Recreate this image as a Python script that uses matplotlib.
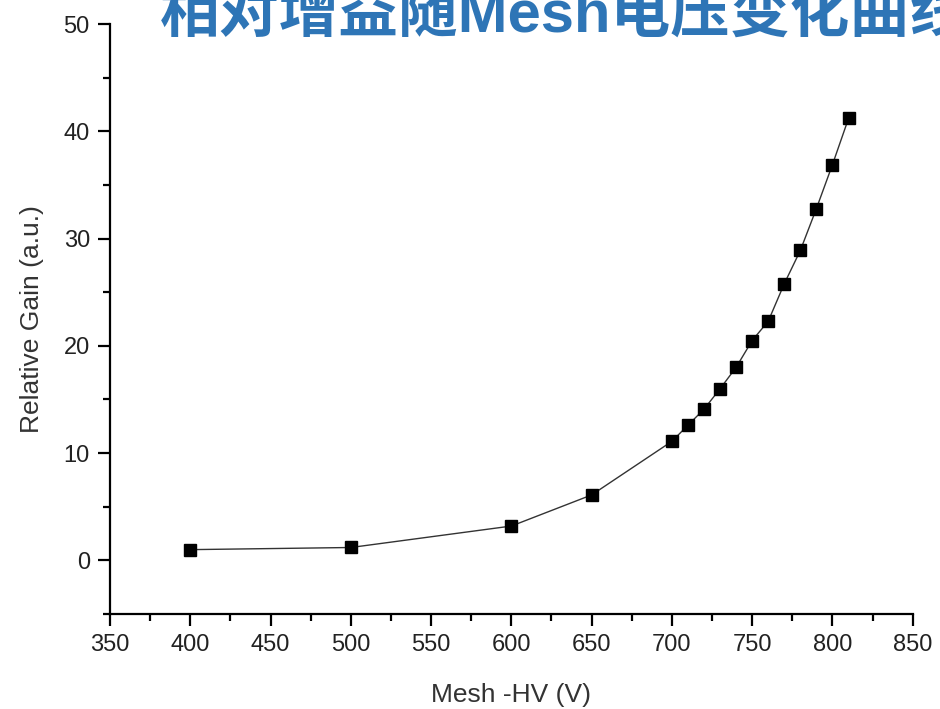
import matplotlib
matplotlib.use('Agg')
import matplotlib.pyplot as plt
from matplotlib.ticker import MultipleLocator

plt.rcParams['font.family'] = ['Liberation Sans', 'DejaVu Sans']

TITLE = '相对增益随Mesh电压变化曲线'
X_LABEL = 'Mesh -HV (V)'
Y_LABEL = 'Relative Gain (a.u.)'

mesh_hv = [400, 500, 600, 650, 700, 710, 720, 730, 740, 750, 760, 770, 780, 790, 800, 810]
gain = [1.0, 1.2, 3.2, 6.1, 11.1, 12.6, 14.1, 16.0, 18.0, 20.5, 22.3, 25.8, 28.9, 32.8, 36.9, 41.2]

fig = plt.figure(figsize=(9.4, 7.09), dpi=100)
ax = fig.add_axes([0.117, 0.134, 0.854, 0.832])

ax.plot(mesh_hv, gain, color='#333333', lw=1.0, marker='s', ms=9,
        mfc='black', mec='black')

ax.set_xlim(350, 850)
ax.set_ylim(-5, 50)
ax.xaxis.set_major_locator(MultipleLocator(50))
ax.xaxis.set_minor_locator(MultipleLocator(25))
ax.yaxis.set_major_locator(MultipleLocator(10))
ax.yaxis.set_minor_locator(MultipleLocator(5))

for side in ('top', 'right'):
    ax.spines[side].set_visible(False)
for side in ('left', 'bottom'):
    ax.spines[side].set_linewidth(1.6)

ax.tick_params(which='major', direction='out', length=8.5, width=1.6, labelsize=17,
               pad=6, labelcolor='#222222')
ax.tick_params(which='minor', direction='out', length=5, width=1.6)
ax.set_xlabel(X_LABEL, fontsize=19, color='#333333', labelpad=19)
ax.set_ylabel(Y_LABEL, fontsize=19, color='#333333', labelpad=14)

# title runs past the right edge, as in the reference slide
fig.text(160 / 940, 1 - 44 / 709, TITLE, fontsize=43, fontweight='bold',
         color='#2E75B6', family=['Liberation Sans', 'Noto Sans CJK SC'],
         ha='left', va='bottom')

fig.savefig('out.png', dpi=100)
